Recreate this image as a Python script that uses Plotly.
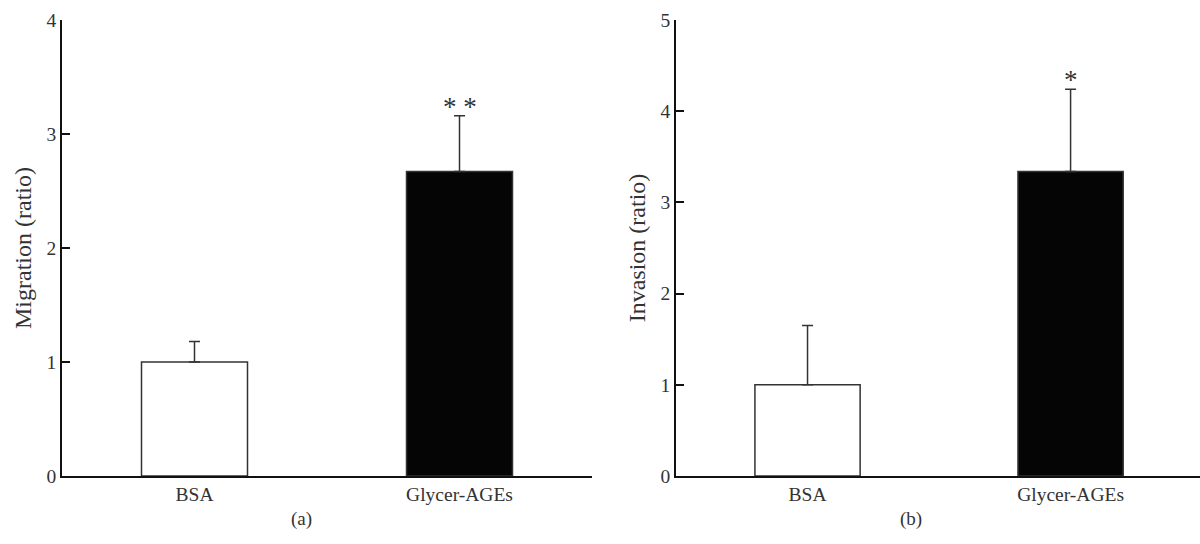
import plotly.graph_objects as go

categories = ["BSA", "Glycer-AGEs"]
migration = [1.0, 2.67]
migration_err = [0.18, 0.49]
invasion = [1.0, 3.34]
invasion_err = [0.65, 0.90]
bar_colors = ["#ffffff", "#050505"]
sig_migration = ["", "* *"]
sig_invasion = ["", "*"]

FONT = "Liberation Serif"
TXT = "#333333"
W, H = 1200, 544

def px_x(p):
    return p / W

def px_y(p):
    return 1 - p / H

fig = go.Figure()

fig.add_trace(go.Bar(
    x=categories, y=migration, width=0.4,
    marker=dict(color=bar_colors, line=dict(color="#333333", width=1.5)),
    error_y=dict(type="data", symmetric=False, array=migration_err,
                 arrayminus=[0, 0], color="#333333", thickness=1.5, width=5.5),
    xaxis="x", yaxis="y", showlegend=False,
))
fig.add_trace(go.Bar(
    x=categories, y=invasion, width=0.4,
    marker=dict(color=bar_colors, line=dict(color="#333333", width=1.5)),
    error_y=dict(type="data", symmetric=False, array=invasion_err,
                 arrayminus=[0, 0], color="#333333", thickness=1.5, width=5.5),
    xaxis="x2", yaxis="y2", showlegend=False,
))

annotations = []
for c, v, e, s in zip(categories, migration, migration_err, sig_migration):
    if s:
        annotations.append(dict(x=c, y=v + e, xref="x", yref="y", text=s,
                                showarrow=False, yshift=-8, yanchor="bottom",
                                font=dict(family=FONT, size=27, color=TXT)))
for c, v, e, s in zip(categories, invasion, invasion_err, sig_invasion):
    if s:
        annotations.append(dict(x=c, y=v + e, xref="x2", yref="y2", text=s,
                                showarrow=False, yshift=-8, yanchor="bottom",
                                font=dict(family=FONT, size=27, color=TXT)))

annotations.append(dict(x=px_x(301), y=px_y(519), xref="paper", yref="paper",
                        xanchor="center", yanchor="middle",
                        text="(a)", showarrow=False,
                        font=dict(family=FONT, size=19, color=TXT)))
annotations.append(dict(x=px_x(911), y=px_y(519), xref="paper", yref="paper",
                        xanchor="center", yanchor="middle",
                        text="(b)", showarrow=False,
                        font=dict(family=FONT, size=19, color=TXT)))

ydom = [px_y(476), px_y(20)]
axis_common = dict(showgrid=False, zeroline=False, showline=True,
                   linecolor="#111111", linewidth=1.5, automargin=False,
                   tickfont=dict(family=FONT, size=19.5, color=TXT))

fig.update_layout(
    width=W, height=H,
    margin=dict(l=0, r=0, t=0, b=0, autoexpand=False),
    paper_bgcolor="white", plot_bgcolor="white",
    annotations=annotations,
    xaxis=dict(domain=[px_x(62), px_x(592)], range=[-0.5, 1.5],
               anchor="y", ticks="", **axis_common),
    yaxis=dict(domain=ydom, range=[0, 4], anchor="x",
               tickvals=[0, 1, 2, 3, 4], ticks="inside", ticklen=8,
               tickwidth=1.5, tickcolor="#111111",
               title=dict(text="Migration (ratio)", standoff=8,
                          font=dict(family=FONT, size=24, color=TXT)),
               **axis_common),
    xaxis2=dict(domain=[px_x(676), 1.0], range=[-0.5, 1.492],
                anchor="y2", ticks="", **axis_common),
    yaxis2=dict(domain=ydom, range=[0, 5], anchor="x2",
                tickvals=[0, 1, 2, 3, 4, 5], ticks="inside", ticklen=8,
                tickwidth=1.5, tickcolor="#111111",
                title=dict(text="Invasion (ratio)", standoff=8,
                           font=dict(family=FONT, size=24, color=TXT)),
                **axis_common),
)

fig.write_html("out.html")
